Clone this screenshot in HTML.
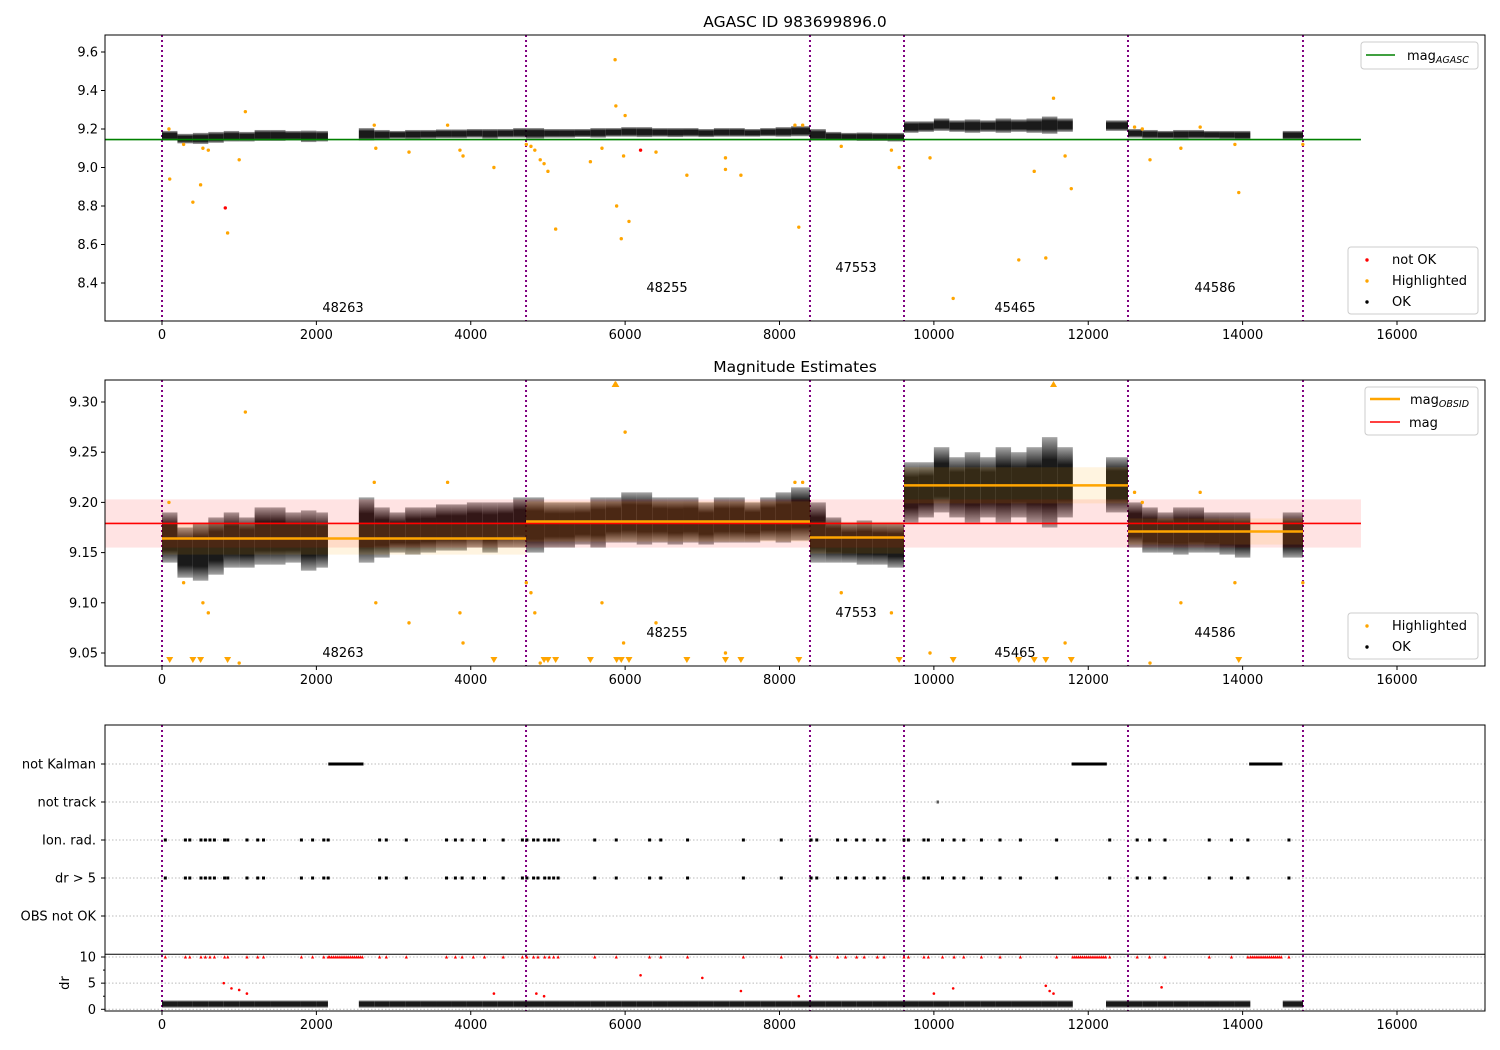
<!DOCTYPE html>
<html><head><meta charset="utf-8">
<style>
body{margin:0;background:#fff;}
svg{display:block;font-family:"DejaVu Sans","Liberation Sans",sans-serif;}
</style></head>
<body>
<svg id="fig" width="1500" height="1050" viewBox="0 0 1500 1050" xmlns="http://www.w3.org/2000/svg">
<defs>
<linearGradient id="cg" x1="0" y1="0" x2="0" y2="1">
<stop offset="0" stop-color="#000" stop-opacity="0.35"/>
<stop offset="0.25" stop-color="#000" stop-opacity="0.9"/>
<stop offset="0.75" stop-color="#000" stop-opacity="0.9"/>
<stop offset="1" stop-color="#000" stop-opacity="0.35"/>
</linearGradient>
</defs>
<rect width="1500" height="1050" fill="#fff"/>
<text x="795" y="27" font-size="15.5" text-anchor="middle">AGASC ID 983699896.0</text>
<text x="795" y="372" font-size="15.5" text-anchor="middle">Magnitude Estimates</text>
<g id="p1"></g>
<g id="p2"></g>
<g id="p3"></g>
</svg>
<script>
// ---- data ----
const binStart = [0,200,400,600,800,1000,1200,1400,1600,1800,2000,2550,2750,2950,3150,3350,3550,3750,3950,4150,4350,4550,4716,4950,5150,5350,5550,5750,5950,6150,6350,6550,6750,6950,7150,7350,7550,7750,7950,8150,8395,8600,8800,9000,9200,9400,9613,9800,10000,10200,10400,10600,10800,11000,11200,11400,11600,12230,12515,12700,12900,13100,13300,13500,13700,13900,14520];
const binEnd   = [200,400,600,800,1000,1200,1400,1600,1800,2000,2150,2750,2950,3150,3350,3550,3750,3950,4150,4350,4550,4716,4950,5150,5350,5550,5750,5950,6150,6350,6550,6750,6950,7150,7350,7550,7750,7950,8150,8395,8600,8800,9000,9200,9400,9613,9800,10000,10200,10400,10600,10800,11000,11200,11400,11600,11800,12515,12700,12900,13100,13300,13500,13700,13900,14100,14782];
const binLo = [9.140,9.125,9.122,9.128,9.135,9.135,9.138,9.138,9.140,9.132,9.135,9.140,9.145,9.150,9.148,9.150,9.152,9.152,9.155,9.150,9.155,9.155,9.150,9.155,9.155,9.158,9.155,9.160,9.160,9.158,9.160,9.158,9.160,9.158,9.160,9.160,9.160,9.162,9.160,9.162,9.140,9.140,9.140,9.138,9.138,9.135,9.180,9.185,9.190,9.185,9.180,9.185,9.180,9.185,9.180,9.175,9.185,9.190,9.155,9.150,9.150,9.148,9.150,9.150,9.148,9.145,9.145];
const binHi = [9.190,9.175,9.180,9.185,9.190,9.185,9.195,9.195,9.190,9.192,9.190,9.205,9.195,9.190,9.195,9.195,9.198,9.198,9.200,9.200,9.200,9.205,9.205,9.200,9.200,9.200,9.205,9.205,9.210,9.210,9.205,9.205,9.205,9.200,9.205,9.205,9.200,9.205,9.210,9.215,9.200,9.185,9.180,9.182,9.180,9.180,9.240,9.240,9.255,9.245,9.250,9.245,9.255,9.250,9.255,9.265,9.255,9.245,9.200,9.195,9.190,9.195,9.195,9.190,9.190,9.190,9.190];
const segStart = [0,4716,8395,9613,12515];
const segEnd   = [4716,8395,9613,12515,14782];
const segMag   = [9.164,9.181,9.165,9.217,9.171];
const segStd   = [0.016,0.020,0.016,0.018,0.013];
const segLabel = ["48263","48255","47553","45465","44586"];
const boundaries = [0,4716,8395,9613,12515,14782];
const agascMag = 9.145;
const meanMag = 9.179;
const meanStd = 0.024;
const hiT = [100,90,400,500,600,850,1000,1080,530,280,3200,3900,3860,4300,4720,4900,4950,5000,5100,5550,5700,5870,5880,5890,5950,6000,6050,6400,5980,6800,7300,7300,7500,8250,8800,9450,9550,9950,10250,11100,11300,11450,11550,11700,11780,12800,13200,13900,13950,14780,2750,3700,2770,8300,8200,12600,12700,13450,4780,4830];
const hiMag = [8.94,9.20,8.82,8.91,9.09,8.66,9.04,9.29,9.10,9.12,9.08,9.06,9.09,9.00,9.12,9.04,9.02,8.98,8.68,9.03,9.10,9.56,9.32,8.80,8.63,9.27,8.72,9.08,9.06,8.96,8.99,9.05,8.96,8.69,9.11,9.09,9.00,9.05,8.32,8.52,8.98,8.53,9.36,9.06,8.89,9.04,9.10,9.12,8.87,9.12,9.22,9.22,9.10,9.22,9.22,9.21,9.20,9.21,9.11,9.09];
const notOkT = [820,6200];
const notOkMag = [8.79,9.09];
const eventT = [43,303,360,505,562,621,679,811,852,1101,1240,1315,1806,1951,2096,2153,2819,2906,3165,3686,3801,3888,4033,4178,4420,4669,4727,4814,4871,4958,5016,5074,5132,5606,5885,6317,6462,6809,7532,8023,8409,8483,8753,8856,8999,9097,9268,9355,9613,9670,9871,9928,10112,10262,10387,10616,10857,11121,11590,12278,12634,12795,12994,13568,13855,14068,14600];
const kalmanStart = [2170,11800,14100];
const kalmanEnd = [2600,12230,14520];
const notTrackT = [10050];
const drOutT = [800,900,1000,1100,4300,4850,4950,6200,7000,7500,8250,10000,10250,11450,11500,11550,12950];
const drOutVal = [5.0,4.0,3.7,3.0,3.0,3.0,2.5,6.5,6.0,3.5,2.5,3.0,4.0,4.5,3.5,3.0,4.2];
const drLo = [0.3];
const drHi = [1.7];
const xTicks = [0,2000,4000,6000,8000,10000,12000,14000,16000];
const y1Ticks = [8.4,8.6,8.8,9.0,9.2,9.4,9.6];
const y2Ticks = [9.05,9.10,9.15,9.20,9.25,9.30];
const catLabels = ["not Kalman","not track","Ion. rad.","dr > 5","OBS not OK"];
const drTicks = [0,5,10];

// ---- scales ----
const L=105,R=1485;
const X = t => 162 + t*0.0771875;
const tMin = (L-162)/0.0771875, tLineEnd = 15533;
const P1={top:35,bot:321}, P2={top:380,bot:666}, P3={top:725,bot:1011};
const Y1 = m => 52 + (9.6-m)*192.5;
const Y2 = m => 402 + (9.30-m)*1004;
const catY = [764,802,840,878,916];
const Ydr = d => 1009.3 - d*5.23;

const NS="http://www.w3.org/2000/svg";
function mk(parent,tag,attrs){const e=document.createElementNS(NS,tag);for(const k in attrs)e.setAttribute(k,attrs[k]);parent.appendChild(e);return e;}
function txt(parent,x,y,s,anchor,size){const e=mk(parent,'text',{x:x,y:y,'font-size':size||13,'text-anchor':anchor||'middle'});e.textContent=s;return e;}

const p1=document.getElementById('p1'),p2=document.getElementById('p2'),p3=document.getElementById('p3');
function clip(id,P){const d=mk(document.querySelector('defs'),'clipPath',{id:id});mk(d,'rect',{x:L,y:P.top,width:R-L,height:P.bot-P.top});}
clip('c1',P1);clip('c2',P2);clip('c3',P3);

function cloud(g,Y,name){
  for(let i=0;i<binStart.length;i++){
    const r=mk(g,'rect',{x:X(binStart[i]),y:Y(binHi[i]),width:Math.max(1,X(binEnd[i])-X(binStart[i])),height:Y(binLo[i])-Y(binHi[i]),fill:'url(#cg)'});
    
    
  }
}
function vlines(g,P){
  boundaries.forEach(b=>{
    const l=mk(g,'line',{x1:X(b),x2:X(b),y1:P.top,y2:P.bot,stroke:'#800080','stroke-width':2,'stroke-dasharray':'2,3'});
    
    
  });
}
function xaxis(g,P,labels){
  xTicks.forEach(t=>{
    mk(g,'line',{x1:X(t),x2:X(t),y1:P.bot,y2:P.bot+4,stroke:'#000'});
    if(labels){const e=txt(g,X(t),P.bot+18,String(t));
      
      }
  });
}
function frame(g,P){const f=mk(g,'rect',{x:L,y:P.top,width:R-L,height:P.bot-P.top,fill:'none',stroke:'#000','stroke-width':1});
  
  }
function legendBox(g,x,y,w,h,name){const b=mk(g,'rect',{x:x,y:y,width:w,height:h,rx:3,fill:'#fff','fill-opacity':0.85,stroke:'#ccc'});
  
  }
function hiPoints(g,Y,P){
  for(let i=0;i<hiT.length;i++){
    const y=Y(hiMag[i]);let e;
    if(y>P.bot-2){const x=X(hiT[i]),yb=P.bot-3;e=mk(g,'path',{d:`M${x-3.5},${yb-6}L${x+3.5},${yb-6}L${x},${yb}Z`,fill:'orange'});}
    else if(y<P.top+2){const x=X(hiT[i]),yt=P.top+1;e=mk(g,'path',{d:`M${x-3.5},${yt+6}L${x+3.5},${yt+6}L${x},${yt}Z`,fill:'orange'});}
    else e=mk(g,'circle',{cx:X(hiT[i]),cy:y,r:1.7,fill:'orange'});
    
    
  }
}

// ---- panel 1 ----
(function(){
  const g=mk(p1,'g',{'clip-path':'url(#c1)'});
  vlines(g,P1);
  cloud(g,Y1,'ok-points');
  hiPoints(g,Y1,P1);
  for(let i=0;i<notOkT.length;i++){const c=mk(g,'circle',{cx:X(notOkT[i]),cy:Y1(notOkMag[i]),r:1.7,fill:'red'});
    
    }
  const gl=mk(g,'line',{x1:X(tMin),x2:X(tLineEnd),y1:Y1(agascMag),y2:Y1(agascMag),stroke:'green','stroke-width':1.6});
  
  
  const lp=[[343,312],[667,292],[856,272],[1015,312],[1215,292]];
  segLabel.forEach((s,i)=>{const e=txt(p1,lp[i][0],lp[i][1],s);
    
    });
  frame(p1,P1);
  y1Ticks.forEach(v=>{mk(p1,'line',{x1:L-4,x2:L,y1:Y1(v),y2:Y1(v),stroke:'#000'});
    const e=txt(p1,L-7,Y1(v)+4.5,v.toFixed(1),'end');
    
    });
  xaxis(p1,P1,true);
  legendBox(p1,1361,42,117,27,'legend-agasc');
  mk(p1,'line',{x1:1366,x2:1395,y1:55,y2:55,stroke:'green','stroke-width':1.6});
  const t=mk(p1,'text',{x:1407,y:60,'font-size':13});t.innerHTML='mag<tspan font-size="9.5" font-style="italic" dy="3">AGASC</tspan>';
  legendBox(p1,1348,247,130,67,'legend-status');
  mk(p1,'circle',{cx:1367,cy:260,r:1.7,fill:'red'});txt(p1,1392,264,'not OK','start');
  mk(p1,'circle',{cx:1367,cy:281,r:1.7,fill:'orange'});txt(p1,1392,285,'Highlighted','start');
  mk(p1,'circle',{cx:1367,cy:302,r:1.7,fill:'#000'});txt(p1,1392,306,'OK','start');
})();

// ---- panel 2 ----
(function(){
  const g=mk(p2,'g',{'clip-path':'url(#c2)'});
  vlines(g,P2);
  cloud(g,Y2,'ok-points');
  const rb=mk(g,'rect',{x:X(tMin),y:Y2(meanMag+meanStd),width:X(tLineEnd)-X(tMin),height:Y2(meanMag-meanStd)-Y2(meanMag+meanStd),fill:'red','fill-opacity':0.11});
  
  
  for(let i=0;i<segStart.length;i++){
    const b=mk(g,'rect',{x:X(segStart[i]),y:Y2(segMag[i]+segStd[i]),width:X(segEnd[i])-X(segStart[i]),height:Y2(segMag[i]-segStd[i])-Y2(segMag[i]+segStd[i]),fill:'orange','fill-opacity':0.12});
    
    
  }
  hiPoints(g,Y2,P2);
  const rl=mk(g,'line',{x1:X(tMin),x2:X(tLineEnd),y1:Y2(meanMag),y2:Y2(meanMag),stroke:'red','stroke-width':1.6});
  
  
  for(let i=0;i<segStart.length;i++){
    const l=mk(g,'line',{x1:X(segStart[i]),x2:X(segEnd[i]),y1:Y2(segMag[i]),y2:Y2(segMag[i]),stroke:'orange','stroke-width':2.5});
    
    
  }
  const lp=[[343,657],[667,637],[856,617],[1015,657],[1215,637]];
  segLabel.forEach((s,i)=>{const e=txt(p2,lp[i][0],lp[i][1],s);
    
    });
  frame(p2,P2);
  y2Ticks.forEach(v=>{mk(p2,'line',{x1:L-4,x2:L,y1:Y2(v),y2:Y2(v),stroke:'#000'});
    const e=txt(p2,L-7,Y2(v)+4.5,v.toFixed(2),'end');
    
    });
  xaxis(p2,P2,true);
  legendBox(p2,1365,387,113,48,'legend-mag');
  mk(p2,'line',{x1:1370,x2:1400,y1:399,y2:399,stroke:'orange','stroke-width':2.5});
  const t=mk(p2,'text',{x:1410,y:404,'font-size':13});t.innerHTML='mag<tspan font-size="9.5" font-style="italic" dy="3">OBSID</tspan>';
  mk(p2,'line',{x1:1370,x2:1400,y1:422,y2:422,stroke:'red','stroke-width':1.6});
  txt(p2,1409,427,'mag','start');
  legendBox(p2,1348,613,130,46,'legend-status');
  mk(p2,'circle',{cx:1367,cy:626,r:1.7,fill:'orange'});txt(p2,1392,630,'Highlighted','start');
  mk(p2,'circle',{cx:1367,cy:647,r:1.7,fill:'#000'});txt(p2,1392,651,'OK','start');
})();

// ---- panel 3 ----
(function(){
  catY.forEach(y=>mk(p3,'line',{x1:L,x2:R,y1:y,y2:y,stroke:'#bbb','stroke-dasharray':'1.5,2'}));
  drTicks.forEach(d=>mk(p3,'line',{x1:L,x2:R,y1:Ydr(d),y2:Ydr(d),stroke:'#bbb','stroke-dasharray':'1.5,2'}));
  const g=mk(p3,'g',{'clip-path':'url(#c3)'});
  vlines(g,P3);
  for(let k=0;k<kalmanStart.length;k++){
    for(let t=kalmanStart[k];t<=kalmanEnd[k];t+=25){
      const s=mk(g,'rect',{x:X(t)-1.2,y:catY[0]-1.5,width:2.4,height:3,fill:'#000'});
      
      
      const r=mk(g,'path',{d:`M${X(t)-1.6},${Ydr(10)+1.5}L${X(t)+1.6},${Ydr(10)+1.5}L${X(t)},${Ydr(10)-1.7}Z`,fill:'red'});
      
      
    }
  }
  notTrackT.forEach(t=>{const s=mk(g,'rect',{x:X(t)-1.2,y:catY[1]-1.5,width:2.4,height:3,fill:'#555'});
    
    });
  eventT.forEach(t=>{
    [2,3].forEach(r=>{const s=mk(g,'rect',{x:X(t)-1.5,y:catY[r]-1.5,width:3,height:3,fill:'#000'});
      
      });
    const tr=mk(g,'path',{d:`M${X(t)-1.6},${Ydr(10)+1.5}L${X(t)+1.6},${Ydr(10)+1.5}L${X(t)},${Ydr(10)-1.7}Z`,fill:'red'});
    
    
  });
  for(let i=0;i<binStart.length;i++){
    const r=mk(g,'rect',{x:X(binStart[i]),y:Ydr(drHi[0]),width:Math.max(1,X(binEnd[i])-X(binStart[i])),height:Ydr(drLo[0])-Ydr(drHi[0]),fill:'url(#cg)'});
    
    
  }
  for(let i=0;i<drOutT.length;i++){const c=mk(g,'circle',{cx:X(drOutT[i]),cy:Ydr(drOutVal[i]),r:1.3,fill:'red'});
    
    }
  mk(p3,'line',{x1:L,x2:R,y1:954.3,y2:954.3,stroke:'#000','stroke-width':1});
  frame(p3,P3);
  catLabels.forEach((s,i)=>{mk(p3,'line',{x1:L-4,x2:L,y1:catY[i],y2:catY[i],stroke:'#000'});
    const e=txt(p3,L-9,catY[i]+4.5,s,'end');
    
    });
  drTicks.forEach(d=>{mk(p3,'line',{x1:L-4,x2:L,y1:Ydr(d),y2:Ydr(d),stroke:'#000'});
    const e=txt(p3,L-9,Ydr(d)+4.5,String(d),'end');
    
    });
  [2.5,7.5].forEach(d=>mk(p3,'line',{x1:L-2,x2:L,y1:Ydr(d),y2:Ydr(d),stroke:'#000'}));
  const yl=mk(p3,'text',{x:69,y:983,'font-size':13,'text-anchor':'middle',transform:'rotate(-90 69 983)'});yl.textContent='dr';
  
  
  xaxis(p3,P3,true);
})();
</script>
</body></html>
